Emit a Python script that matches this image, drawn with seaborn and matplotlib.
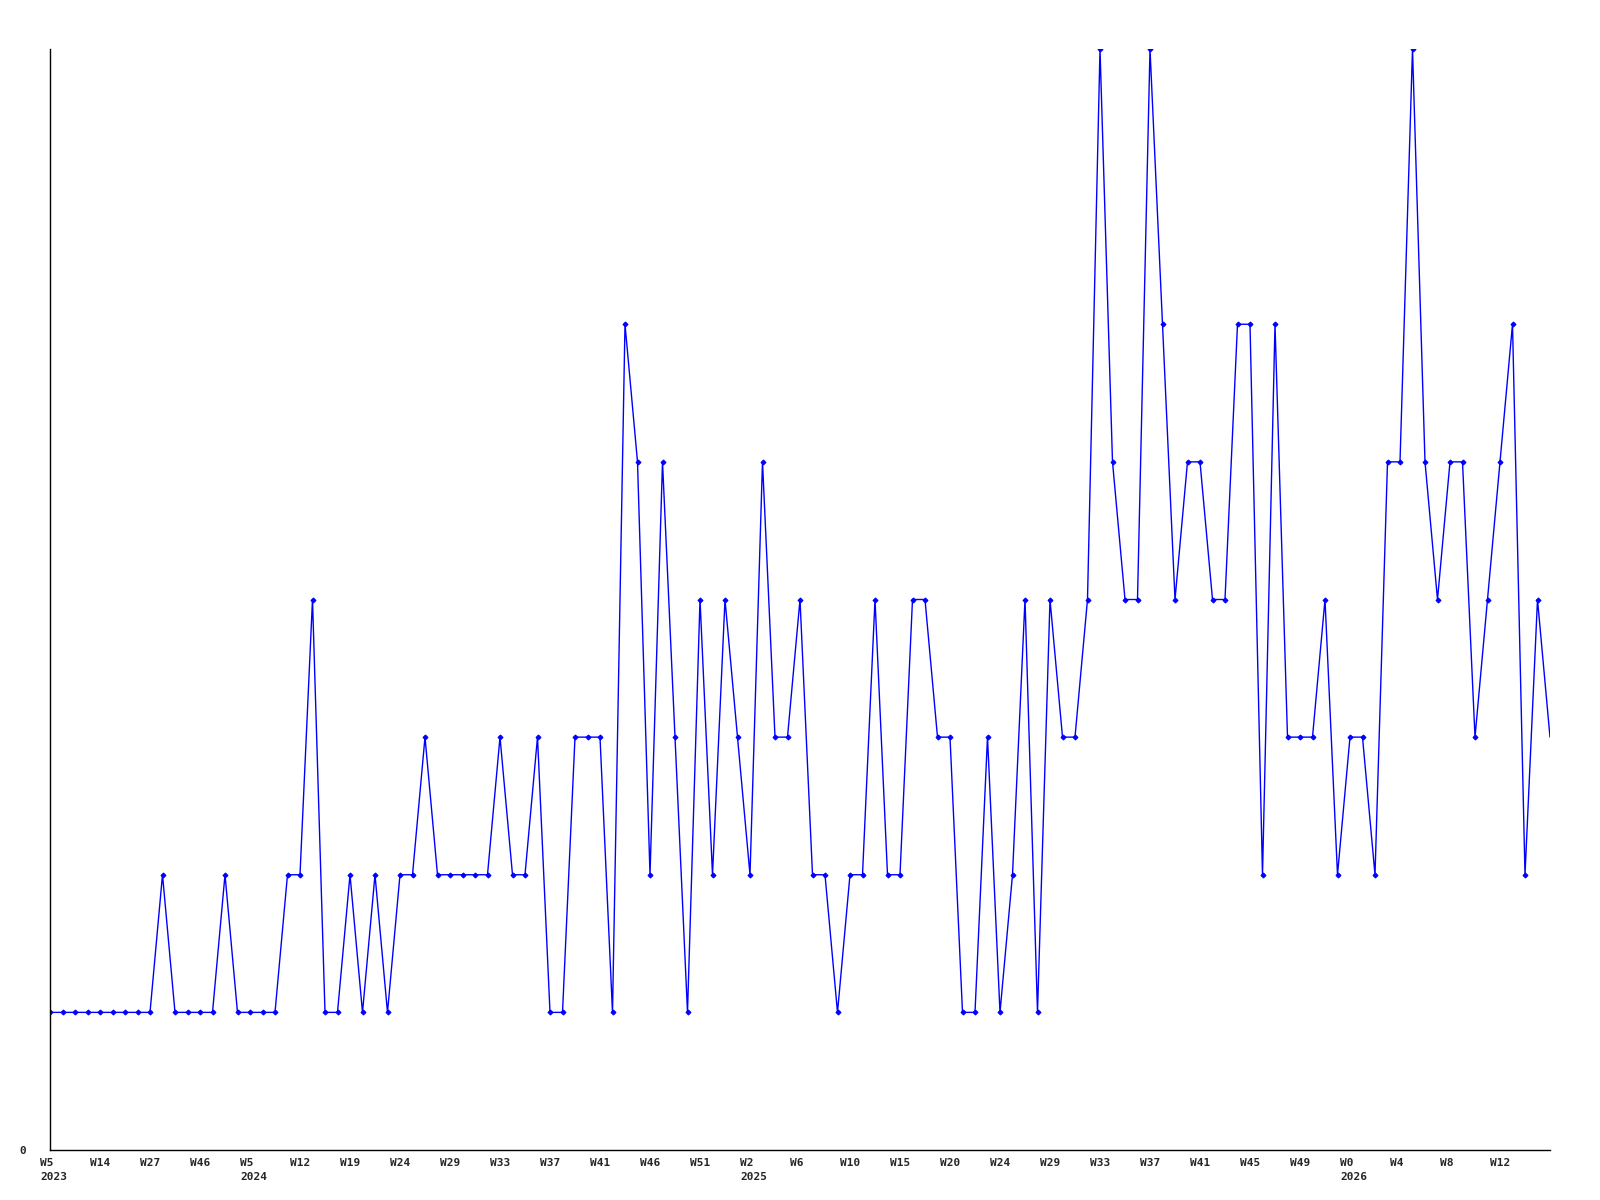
import numpy as np
import pandas as pd
import matplotlib
matplotlib.use("Agg")
import matplotlib.pyplot as plt
import matplotlib.transforms as mtransforms
import seaborn as sns

# weekly counts, one value per point
values = [1, 1, 1, 1, 1, 1, 1, 1, 1, 2,
          1, 1, 1, 1, 2, 1, 1, 1, 1, 2,
          2, 4, 1, 1, 2, 1, 2, 1, 2, 2,
          3, 2, 2, 2, 2, 2, 3, 2, 2, 3,
          1, 1, 3, 3, 3, 1, 6, 5, 2, 5,
          3, 1, 4, 2, 4, 3, 2, 5, 3, 3,
          4, 2, 2, 1, 2, 2, 4, 2, 2, 4,
          4, 3, 3, 1, 1, 3, 1, 2, 4, 1,
          4, 3, 3, 4, 8, 5, 4, 4, 8, 6,
          4, 5, 5, 4, 4, 6, 6, 2, 6, 3,
          3, 3, 4, 2, 3, 3, 2, 5, 5, 8,
          5, 4, 5, 5, 3, 4, 5, 6, 2, 4,
          3]

# labels shown every 4th point
week_labels = ["W5", "W14", "W27", "W46", "W5", "W12", "W19", "W24", "W29", "W33",
               "W37", "W41", "W46", "W51", "W2", "W6", "W10", "W15", "W20", "W24",
               "W29", "W33", "W37", "W41", "W45", "W49", "W0", "W4", "W8", "W12"]
# year shown under the first label of each year (by label position)
year_labels = {0: "2023", 4: "2024", 14: "2025", 26: "2026"}

df = pd.DataFrame({"idx": np.arange(len(values)), "count": values})

sns.set_style("white")
plt.rcParams["font.family"] = ["DejaVu Sans Mono", "DejaVu Sans"]

fig = plt.figure(figsize=(16, 12), dpi=100)
ax = fig.add_axes([50 / 1600, 1 - 1150 / 1200, 1500 / 1600, 1101 / 1200])

sns.lineplot(data=df, x="idx", y="count", ax=ax, color="#0000ff", linewidth=1.0,
             marker="D", markersize=2.5, markeredgewidth=0.8, markeredgecolor="#0000ff",
             markevery=list(range(len(values) - 1)))

ax.set_xlim(0, len(values) - 1)
ax.set_ylim(0, 8)
ax.set_xlabel("")
ax.set_ylabel("")

# x labels drawn as text, shifted a little left of each tick
tick_pos = list(range(0, len(values), 4))[:len(week_labels)]
ax.set_xticks(tick_pos)
ax.set_xticklabels([])
base = mtransforms.blended_transform_factory(ax.transData, ax.transAxes)
shift = mtransforms.ScaledTranslation(-10 / 100, -8 / 100, fig.dpi_scale_trans)
for k, (p, w) in enumerate(zip(tick_pos, week_labels)):
    txt = w + "\n" + year_labels[k] if k in year_labels else w
    ax.text(p, 0, txt, transform=base + shift, ha="left", va="top",
            fontsize=8, fontweight="bold", linespacing=1.45, clip_on=False)

ax.set_yticks([0])
ax.set_yticklabels(["0"], fontsize=8, fontweight="bold")
ax.tick_params(axis="x", length=0)
ax.tick_params(axis="y", length=0, pad=17)

for s in ["top", "right"]:
    ax.spines[s].set_visible(False)
for s in ["left", "bottom"]:
    ax.spines[s].set_color("black")
    ax.spines[s].set_linewidth(1.0)

fig.savefig("out.png", dpi=100)
